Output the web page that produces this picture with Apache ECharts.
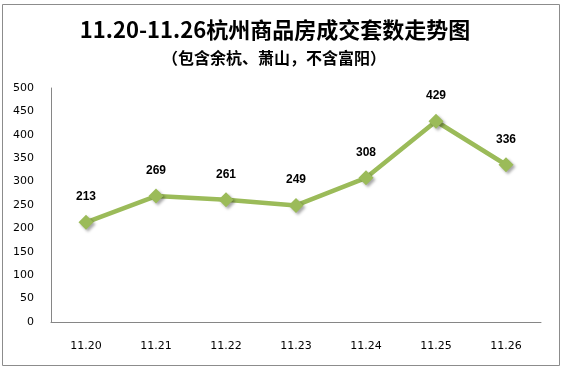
<!DOCTYPE html>
<html><head><meta charset="utf-8">
<script src="https://cdn.jsdelivr.net/npm/echarts@6/dist/echarts.min.js"></script>
<style>html,body{margin:0;padding:0;background:#fff}#c{width:564px;height:369px}</style>
</head><body><div id="c"></div>
<script>
const categories = ['11.20','11.21','11.22','11.23','11.24','11.25','11.26'];
const values = [213, 269, 261, 249, 308, 429, 336];
const titleText = '11.20-11.26杭州商品房成交套数走势图';
const subtitleText = '（包含余杭、萧山，不含富阳）';

const chart = echarts.init(document.getElementById('c'), null, {renderer:'canvas'});
chart.setOption({
  backgroundColor: '#fff',
  animation: false,
  graphic: [
    {type:'rect', shape:{x:2.5,y:4.5,width:557,height:361}, style:{fill:'none', stroke:'#8c8c8c', lineWidth:1}, z:-1}
  ],
  title: [
    {text: titleText, left: 270, top: 14, textAlign:'center',
     textStyle:{fontFamily:'"Noto Sans CJK SC", sans-serif', fontWeight:'bold', fontSize:22, color:'#000'}},
    {text: subtitleText, left: 269, top: 45, textAlign:'center',
     textStyle:{fontFamily:'"Noto Sans CJK SC", sans-serif', fontWeight:'bold', fontSize:16, color:'#000'}}
  ],
  grid: {left: 51, right: 23, top: 88, bottom: 47, containLabel:false},
  xAxis: {
    type:'category', data: categories, boundaryGap:true,
    axisLine:{show:true, lineStyle:{color:'#868686', width:1}},
    axisTick:{show:false},
    axisLabel:{margin:19, color:'#000', fontFamily:'"DejaVu Sans", sans-serif', fontSize:11}
  },
  yAxis: {
    type:'value', min:0, max:500, interval:50,
    axisLine:{show:true, lineStyle:{color:'#868686', width:1}},
    axisTick:{show:false},
    splitLine:{show:false},
    axisLabel:{margin:17, color:'#000', fontFamily:'"DejaVu Sans", sans-serif', fontSize:11}
  },
  series: [{
    type:'line', data: values,
    symbol:'diamond', symbolSize:15,
    lineStyle:{color:'#9bbb59', width:4.5},
    itemStyle:{color:'#9bbb59', shadowBlur:3, shadowColor:'rgba(0,0,0,0.35)', shadowOffsetX:2, shadowOffsetY:2},
    label:{show:true, position:'top', distance:12, color:'#000', fontWeight:'bold',
      fontFamily:'"Liberation Sans", Arial, sans-serif', fontSize:12}
  }]
});
</script></body></html>
